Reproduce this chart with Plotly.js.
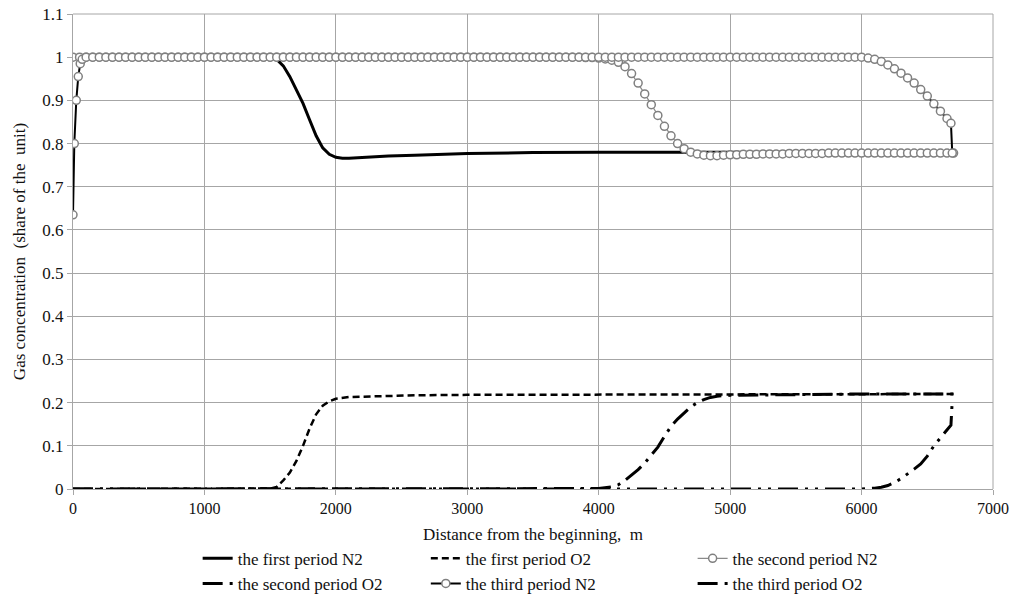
<!DOCTYPE html>
<html>
<head>
<meta charset="utf-8">
<script src="https://cdn.plot.ly/plotly-3.0.1.min.js"></script>
<style>html,body{margin:0;padding:0;background:#fff;}#chart{width:1016px;height:598px;}</style>
</head>
<body>
<div id="chart"></div>
<script>
// ---- Data (distance in m, concentration as share of unit) ----
const seriesNames = [
  "the first period N2", "the first period O2", "the second period N2",
  "the second period O2", "the third period N2", "the third period O2"
];

// first period N2 (solid black)
const n2FirstX = [0, 1400, 1500, 1550, 1600, 1650, 1700, 1750, 1800, 1850, 1900, 1950, 2000, 2050, 2100, 2200, 2400, 2600, 2800, 3000, 3500, 4000, 5000, 6000, 6700];
const n2FirstY = [1, 1, 0.999, 0.995, 0.98, 0.955, 0.925, 0.893, 0.855, 0.818, 0.79, 0.775, 0.768, 0.766, 0.766, 0.768, 0.771, 0.773, 0.775, 0.777, 0.779, 0.78, 0.78, 0.78, 0.78];

// first period O2 (dashed)
const o2FirstX = [0, 1400, 1500, 1550, 1600, 1650, 1700, 1750, 1800, 1850, 1900, 1950, 2000, 2100, 2300, 2600, 3000, 4000, 5000, 6000, 6700];
const o2FirstY = [0, 0, 0.001, 0.005, 0.02, 0.038, 0.065, 0.1, 0.14, 0.173, 0.193, 0.203, 0.209, 0.213, 0.215, 0.217, 0.218, 0.219, 0.22, 0.22, 0.22];

// second period N2 (grey line with circle markers)
const n2SecondX = [
  0, 50, 100, 150, 200, 250, 300, 350, 400, 450, 500, 550, 600, 650, 700, 750, 800, 850, 900, 950,
  1000, 1050, 1100, 1150, 1200, 1250, 1300, 1350, 1400, 1450, 1500, 1550, 1600, 1650, 1700, 1750, 1800, 1850, 1900, 1950,
  2000, 2050, 2100, 2150, 2200, 2250, 2300, 2350, 2400, 2450, 2500, 2550, 2600, 2650, 2700, 2750, 2800, 2850, 2900, 2950,
  3000, 3050, 3100, 3150, 3200, 3250, 3300, 3350, 3400, 3450, 3500, 3550, 3600, 3650, 3700, 3750, 3800, 3850, 3900, 3950,
  4000, 4050, 4100, 4150, 4200, 4250, 4300, 4350, 4400, 4450, 4500, 4550, 4600, 4650, 4700, 4750, 4800, 4850, 4900, 4950,
  5000, 5050, 5100, 5150, 5200, 5250, 5300, 5350, 5400, 5450, 5500, 5550, 5600, 5650, 5700, 5750, 5800, 5850, 5900, 5950,
  6000, 6050, 6100, 6150, 6200, 6250, 6300, 6350, 6400, 6450, 6500, 6550, 6600, 6650, 6700
];
const n2SecondY = [
  1, 1, 1, 1, 1, 1, 1, 1, 1, 1, 1, 1, 1, 1, 1, 1, 1, 1, 1, 1,
  1, 1, 1, 1, 1, 1, 1, 1, 1, 1, 1, 1, 1, 1, 1, 1, 1, 1, 1, 1,
  1, 1, 1, 1, 1, 1, 1, 1, 1, 1, 1, 1, 1, 1, 1, 1, 1, 1, 1, 1,
  1, 1, 1, 1, 1, 1, 1, 1, 1, 1, 1, 1, 1, 1, 1, 1, 1, 1, 0.999, 0.999,
  0.998, 0.996, 0.993, 0.988, 0.978, 0.962, 0.94, 0.915, 0.89, 0.865, 0.84, 0.818, 0.8, 0.788, 0.78, 0.776, 0.773, 0.772, 0.772, 0.773,
  0.774, 0.774, 0.775, 0.775, 0.775, 0.776, 0.776, 0.776, 0.776, 0.777, 0.777, 0.777, 0.777, 0.777, 0.777, 0.778, 0.778, 0.778, 0.778, 0.778,
  0.778, 0.778, 0.778, 0.778, 0.778, 0.778, 0.778, 0.778, 0.778, 0.778, 0.778, 0.778, 0.778, 0.778, 0.778
];

// second period O2 (long dash - dot)
const o2SecondX = [0, 3900, 4000, 4100, 4150, 4200, 4250, 4300, 4350, 4400, 4450, 4500, 4550, 4600, 4650, 4700, 4750, 4800, 4850, 4900, 5000, 5500, 6000, 6700];
const o2SecondY = [0, 0, 0.001, 0.005, 0.01, 0.02, 0.032, 0.045, 0.06, 0.078, 0.097, 0.122, 0.145, 0.162, 0.176, 0.19, 0.2, 0.207, 0.212, 0.215, 0.217, 0.219, 0.22, 0.22];

// third period N2 (black line with circle markers)
const n2ThirdX = [
  0, 10, 25, 40, 55, 70,
  100, 150, 200, 250, 300, 350, 400, 450, 500, 550, 600, 650, 700, 750, 800, 850, 900, 950,
  1000, 1050, 1100, 1150, 1200, 1250, 1300, 1350, 1400, 1450, 1500, 1550, 1600, 1650, 1700, 1750, 1800, 1850, 1900, 1950,
  2000, 2050, 2100, 2150, 2200, 2250, 2300, 2350, 2400, 2450, 2500, 2550, 2600, 2650, 2700, 2750, 2800, 2850, 2900, 2950,
  3000, 3050, 3100, 3150, 3200, 3250, 3300, 3350, 3400, 3450, 3500, 3550, 3600, 3650, 3700, 3750, 3800, 3850, 3900, 3950,
  4000, 4050, 4100, 4150, 4200, 4250, 4300, 4350, 4400, 4450, 4500, 4550, 4600, 4650, 4700, 4750, 4800, 4850, 4900, 4950,
  5000, 5050, 5100, 5150, 5200, 5250, 5300, 5350, 5400, 5450, 5500, 5550, 5600, 5650, 5700, 5750, 5800, 5850, 5900, 5950,
  6000, 6050, 6100, 6150, 6200, 6250, 6300, 6350, 6400, 6450, 6500, 6550, 6600, 6650, 6680, 6690
];
const n2ThirdY = [
  0.635, 0.8, 0.9, 0.955, 0.985, 0.995,
  1, 1, 1, 1, 1, 1, 1, 1, 1, 1, 1, 1, 1, 1, 1, 1, 1, 1,
  1, 1, 1, 1, 1, 1, 1, 1, 1, 1, 1, 1, 1, 1, 1, 1, 1, 1, 1, 1,
  1, 1, 1, 1, 1, 1, 1, 1, 1, 1, 1, 1, 1, 1, 1, 1, 1, 1, 1, 1,
  1, 1, 1, 1, 1, 1, 1, 1, 1, 1, 1, 1, 1, 1, 1, 1, 1, 1, 1, 1,
  1, 1, 1, 1, 1, 1, 1, 1, 1, 1, 1, 1, 1, 1, 1, 1, 1, 1, 1, 1,
  1, 1, 1, 1, 1, 1, 1, 1, 1, 1, 1, 1, 1, 1, 1, 1, 1, 1, 1, 1,
  1, 0.998, 0.995, 0.99, 0.982, 0.973, 0.963, 0.952, 0.94, 0.925, 0.91, 0.892, 0.875, 0.858, 0.847, 0.778
];

// third period O2 (long dash - dot - dot)
const o2ThirdX = [0, 6000, 6100, 6150, 6200, 6250, 6300, 6350, 6400, 6450, 6500, 6550, 6600, 6650, 6680, 6690];
const o2ThirdY = [0, 0, 0.002, 0.004, 0.008, 0.015, 0.024, 0.034, 0.046, 0.058, 0.076, 0.1, 0.118, 0.136, 0.148, 0.205];

const xTickVals = [0, 1000, 2000, 3000, 4000, 5000, 6000, 7000];
const yTickVals = [0, 0.1, 0.2, 0.3, 0.4, 0.5, 0.6, 0.7, 0.8, 0.9, 1, 1.1];

// ---- Chart ----
const FONT = "'Liberation Serif', 'Times New Roman', Times, serif";
const markerStyle = {symbol: "circle", size: 8, color: "#fff", line: {color: "#808080", width: 1.5}};
const traces = [
  {x: n2FirstX, y: n2FirstY, name: seriesNames[0], mode: "lines",
   line: {color: "#000", width: 3}, legend: "legend", legendgroup: "a"},
  {x: o2FirstX, y: o2FirstY, name: seriesNames[1], mode: "lines",
   line: {color: "#000", width: 2.5, dash: "7px,4px"}, legend: "legend2", legendgroup: "b"},
  {x: n2SecondX, y: n2SecondY, name: seriesNames[2], mode: "lines+markers",
   line: {color: "#8a8a8a", width: 1.2}, marker: markerStyle,
   legend: "legend3", legendgroup: "c"},
  {x: o2SecondX, y: o2SecondY, name: seriesNames[3], mode: "lines",
   line: {color: "#000", width: 3, dash: "20px,7px,3px,7px"}, legend: "legend", legendgroup: "d"},
  {x: n2ThirdX, y: n2ThirdY, name: seriesNames[4], mode: "lines+markers",
   line: {color: "#000", width: 2}, marker: markerStyle,
   legend: "legend2", legendgroup: "e"},
  {x: o2ThirdX, y: o2ThirdY, name: seriesNames[5], mode: "lines",
   line: {color: "#000", width: 3, dash: "20px,7px,3px,7px,3px,7px"}, legend: "legend3", legendgroup: "f"}
];

const legendBase = {
  orientation: "v", xanchor: "left", yanchor: "top", y: -0.109,
  bgcolor: "rgba(0,0,0,0)", borderwidth: 0,
  font: {family: FONT, size: 17, color: "#111"},
  traceorder: "grouped", tracegroupgap: 0
};

const layout = {
  width: 1016, height: 598,
  margin: {l: 73, r: 23, t: 14, b: 109, autoexpand: false},
  paper_bgcolor: "#fff", plot_bgcolor: "#fff",
  font: {family: FONT, size: 16, color: "#111"},
  showlegend: true,
  legend: Object.assign({}, legendBase, {x: 0.1355}),
  legend2: Object.assign({}, legendBase, {x: 0.3835}),
  legend3: Object.assign({}, legendBase, {x: 0.6735}),
  xaxis: {
    range: [0, 7000], tickvals: xTickVals, ticktext: xTickVals.map(String),
    showgrid: true, gridcolor: "#a6a6a6", gridwidth: 1,
    showline: true, linecolor: "#a6a6a6", linewidth: 1, mirror: false,
    ticks: "outside", ticklen: 5, tickcolor: "#a6a6a6",
    zeroline: false,
    tickfont: {family: FONT, size: 16, color: "#111"},
    title: {text: "Distance from the beginning,  m", font: {family: FONT, size: 17, color: "#111"}, standoff: 11}
  },
  yaxis: {
    range: [0, 1.1], tickvals: yTickVals, ticktext: yTickVals.map(v => String(v)),
    showgrid: true, gridcolor: "#a6a6a6", gridwidth: 1,
    showline: true, linecolor: "#a6a6a6", linewidth: 1,
    ticks: "outside", ticklen: 5, tickcolor: "#a6a6a6",
    zeroline: false,
    tickfont: {family: FONT, size: 17, color: "#111"},
    title: {text: "Gas concentration \u00a0(share of the \u00a0unit)", font: {family: FONT, size: 17, color: "#111"}, standoff: 12}
  },
  shapes: [
    {type: "line", xref: "paper", yref: "paper", x0: 1, x1: 1, y0: 0, y1: 1, line: {color: "#a6a6a6", width: 1}},
    {type: "line", xref: "paper", yref: "paper", x0: 0, x1: 1, y0: 1, y1: 1, line: {color: "#a6a6a6", width: 1}}
  ]
};

Plotly.newPlot("chart", traces, layout, {displayModeBar: false, staticPlot: true});
</script>
</body>
</html>
